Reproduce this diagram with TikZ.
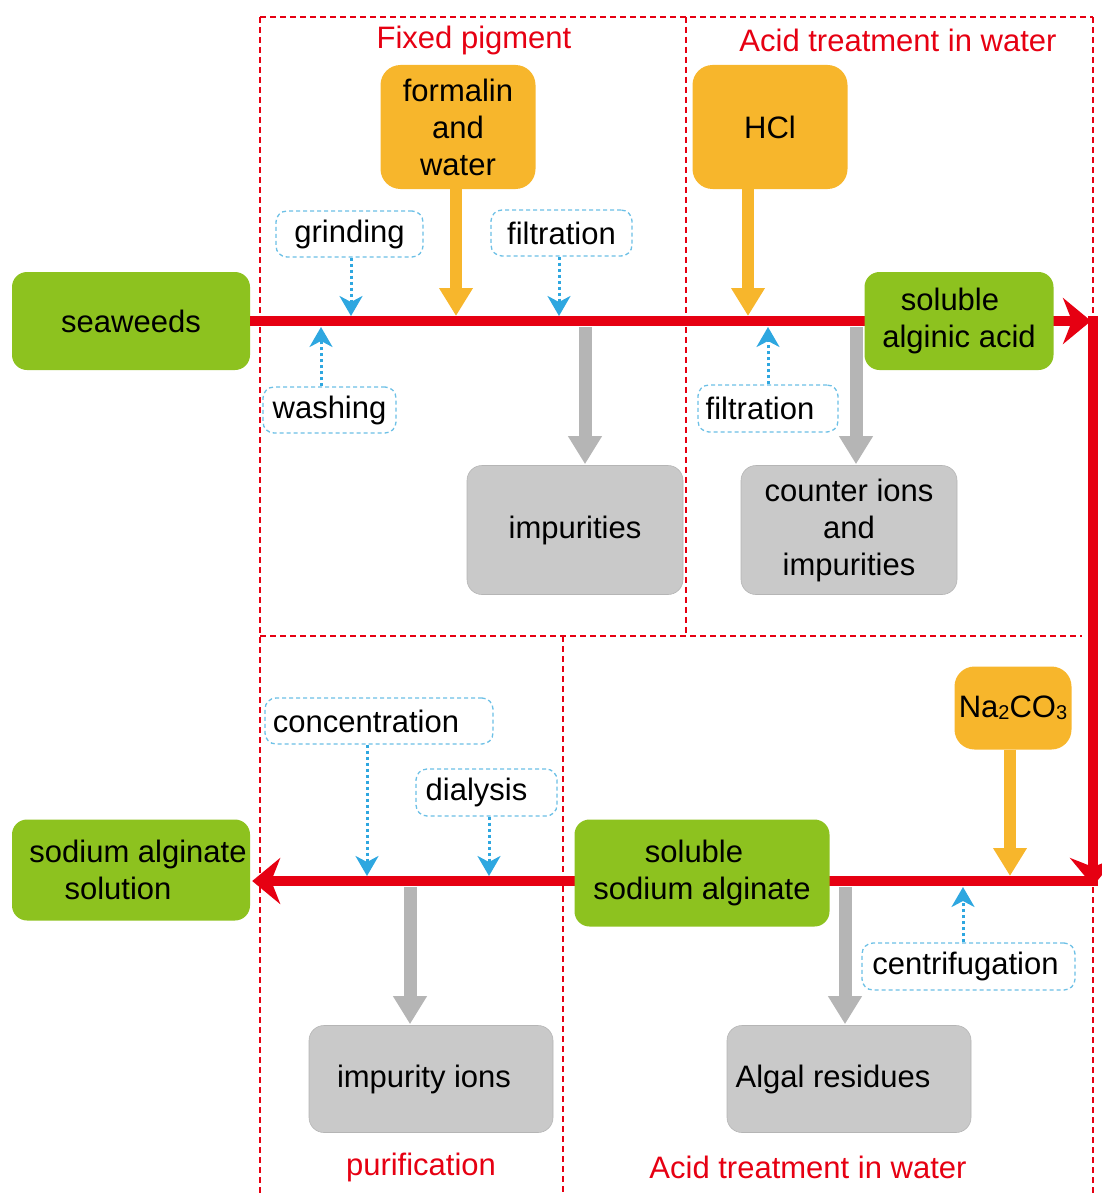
\documentclass[tikz,border=0pt]{standalone}
\usepackage{fontspec}
\setmainfont{Liberation Sans}
\usetikzlibrary{arrows.meta}
\definecolor{gr}{HTML}{8DC21F}
\definecolor{orng}{HTML}{F7B62C}
\definecolor{gry}{HTML}{C9C9C9}
\definecolor{garr}{HTML}{B5B5B5}
\definecolor{rd}{HTML}{E60012}
\definecolor{bl}{HTML}{2EA7E0}
\definecolor{blb}{HTML}{6CC0E6}
\begin{document}
\begin{tikzpicture}[x=1pt,y=-1pt,
  every node/.style={font=\fontsize{31}{37}\selectfont, inner sep=0pt, align=center},
  gbox/.style={fill=gr, rounded corners=15pt},
  obox/.style={fill=orng, rounded corners=20pt},
  ybox/.style={fill=gry, draw=gry!90!black, line width=0.6pt, rounded corners=15pt},
  lbox/.style={fill=white, draw=blb, line width=1.3pt, dash pattern=on 4pt off 3pt, rounded corners=11pt},
  frame/.style={draw=rd, line width=2.2pt, dash pattern=on 6pt off 4pt},
  redlbl/.style={text=rd, font=\fontsize{31}{35}\selectfont},
  redarr/.style={draw=rd, line width=10pt, -{Stealth[length=28pt,width=46pt,inset=9pt]}},
  orarr/.style={draw=orng, line width=12pt, -{Triangle[length=28pt,width=32pt]}},
  grarr/.style={draw=garr, line width=13pt, -{Triangle[length=28pt,width=32pt]}},
  blarr/.style={draw=bl, line width=3pt, dash pattern=on 3pt off 3pt, -{Stealth[length=20pt,width=23pt,inset=6pt]}}
]
\useasboundingbox (0,0) rectangle (1101,1196);

% dashed frames
\draw[frame] (260,17) -- (1093,17);
\draw[frame] (260,17) -- (260,1196);
\draw[frame] (686,17) -- (686,636);
\draw[frame] (1093,17) -- (1093,1196);
\draw[frame] (260,636) -- (1082,636);
\draw[frame] (563,636) -- (563,1196);

% section labels
\node[redlbl] (l1) at (474,40) {Fixed pigment};
\node[redlbl] (l2) at (898,40) {Acid treatment in water};
\node[redlbl] (l3) at (421,1167) {purification};
\node[redlbl] (l4) at (808,1167) {Acid treatment in water};

% helper coordinates
\coordinate (tr) at (1093,321);
\coordinate (br) at (1093,881);

% end nodes
\node[gbox, minimum width=238pt, minimum height=98pt] (sea) at (131,321) {seaweeds};
\node[gbox, minimum width=238pt, minimum height=101pt] (sol) at (131,870) {\hspace*{14pt}sodium alginate\\\hspace*{-26pt}solution};

% red main flow
\draw[redarr] (sea.east) -- ([xshift=-2pt]tr);
\draw[redarr] ([yshift=5pt]tr) -- ([yshift=-5pt]br);
\draw[redarr] ([xshift=5pt]br) -- ([xshift=2pt]sol.east |- br);

% intermediate products sitting on the line
\node[gbox, minimum width=189pt, minimum height=98pt] (saa) at (959,321) {\hspace*{-18pt}soluble\\alginic acid};
\node[gbox, minimum width=255pt, minimum height=107pt] (ssa) at (702,873) {\hspace*{-16pt}soluble\\sodium alginate};

% reagents
\node[obox, minimum width=155pt, minimum height=124pt] (form) at (458,127) {formalin\\and\\water};
\node[obox, minimum width=155pt, minimum height=124pt] (hcl) at (770,127) {HCl};
\node[obox, minimum width=117pt, minimum height=83pt] (na) at (1013,708) {Na\raisebox{-2pt}{\fontsize{20}{20}\selectfont 2}CO\raisebox{-2pt}{\fontsize{20}{20}\selectfont 3}};

\coordinate (o1) at (456,316);
\coordinate (o2) at (748,316);
\coordinate (o3) at (1010,876);
\draw[orarr] (form.south -| o1) -- (o1);
\draw[orarr] (hcl.south -| o2) -- (o2);
\draw[orarr] (na.south -| o3) -- (o3);

% waste boxes
\node[ybox, minimum width=216pt, minimum height=129pt] (imp) at (575,530) {impurities};
\node[ybox, minimum width=216pt, minimum height=129pt] (cnt) at (849,530) {counter ions\\and\\impurities};
\node[ybox, minimum width=244pt, minimum height=107pt] (ion) at (431,1079) {\hspace*{-14pt}impurity ions};
\node[ybox, minimum width=244pt, minimum height=107pt] (alg) at (849,1079) {\hspace*{-32pt}Algal residues};

\coordinate (g1) at (585,327);
\coordinate (g2) at (856,327);
\coordinate (g3) at (410,887);
\coordinate (g4) at (845,887);
\draw[grarr] (g1) -- ([yshift=1pt]g1 |- imp.north);
\draw[grarr] (g2) -- ([yshift=1pt]g2 |- cnt.north);
\draw[grarr] (g3) -- ([yshift=1pt]g3 |- ion.north);
\draw[grarr] (g4) -- ([yshift=1pt]g4 |- alg.north);

% operation labels
\node[lbox, minimum width=147pt, minimum height=46pt] (grind) at (349.5,234) {grinding};
\node[lbox, minimum width=141pt, minimum height=46pt] (filt1) at (561.5,233) {filtration};
\node[lbox, minimum width=133pt, minimum height=46pt] (wash) at (329.5,410) {washing};
\node[lbox, minimum width=140pt, minimum height=47pt] (filt2) at (768,408.5) {\hspace*{-16pt}filtration};
\node[lbox, minimum width=228pt, minimum height=46pt] (conc) at (379,721) {\hspace*{-26pt}concentration};
\node[lbox, minimum width=141pt, minimum height=47pt] (dial) at (486.5,792.5) {\hspace*{-20pt}dialysis};
\node[lbox, minimum width=213pt, minimum height=47pt] (cent) at (968.5,966.5) {\hspace*{-6pt}centrifugation};

\coordinate (b1) at (351,316);
\coordinate (b2) at (559,316);
\coordinate (b3) at (321,327);
\coordinate (b4) at (768,327);
\coordinate (b5) at (367,876);
\coordinate (b6) at (489,876);
\coordinate (b7) at (963,887);
\draw[blarr] (grind.south -| b1) -- (b1);
\draw[blarr] (filt1.south -| b2) -- (b2);
\draw[blarr] (wash.north -| b3) -- (b3);
\draw[blarr] (filt2.north -| b4) -- (b4);
\draw[blarr] (conc.south -| b5) -- (b5);
\draw[blarr] (dial.south -| b6) -- (b6);
\draw[blarr] (cent.north -| b7) -- (b7);
\end{tikzpicture}
\end{document}
